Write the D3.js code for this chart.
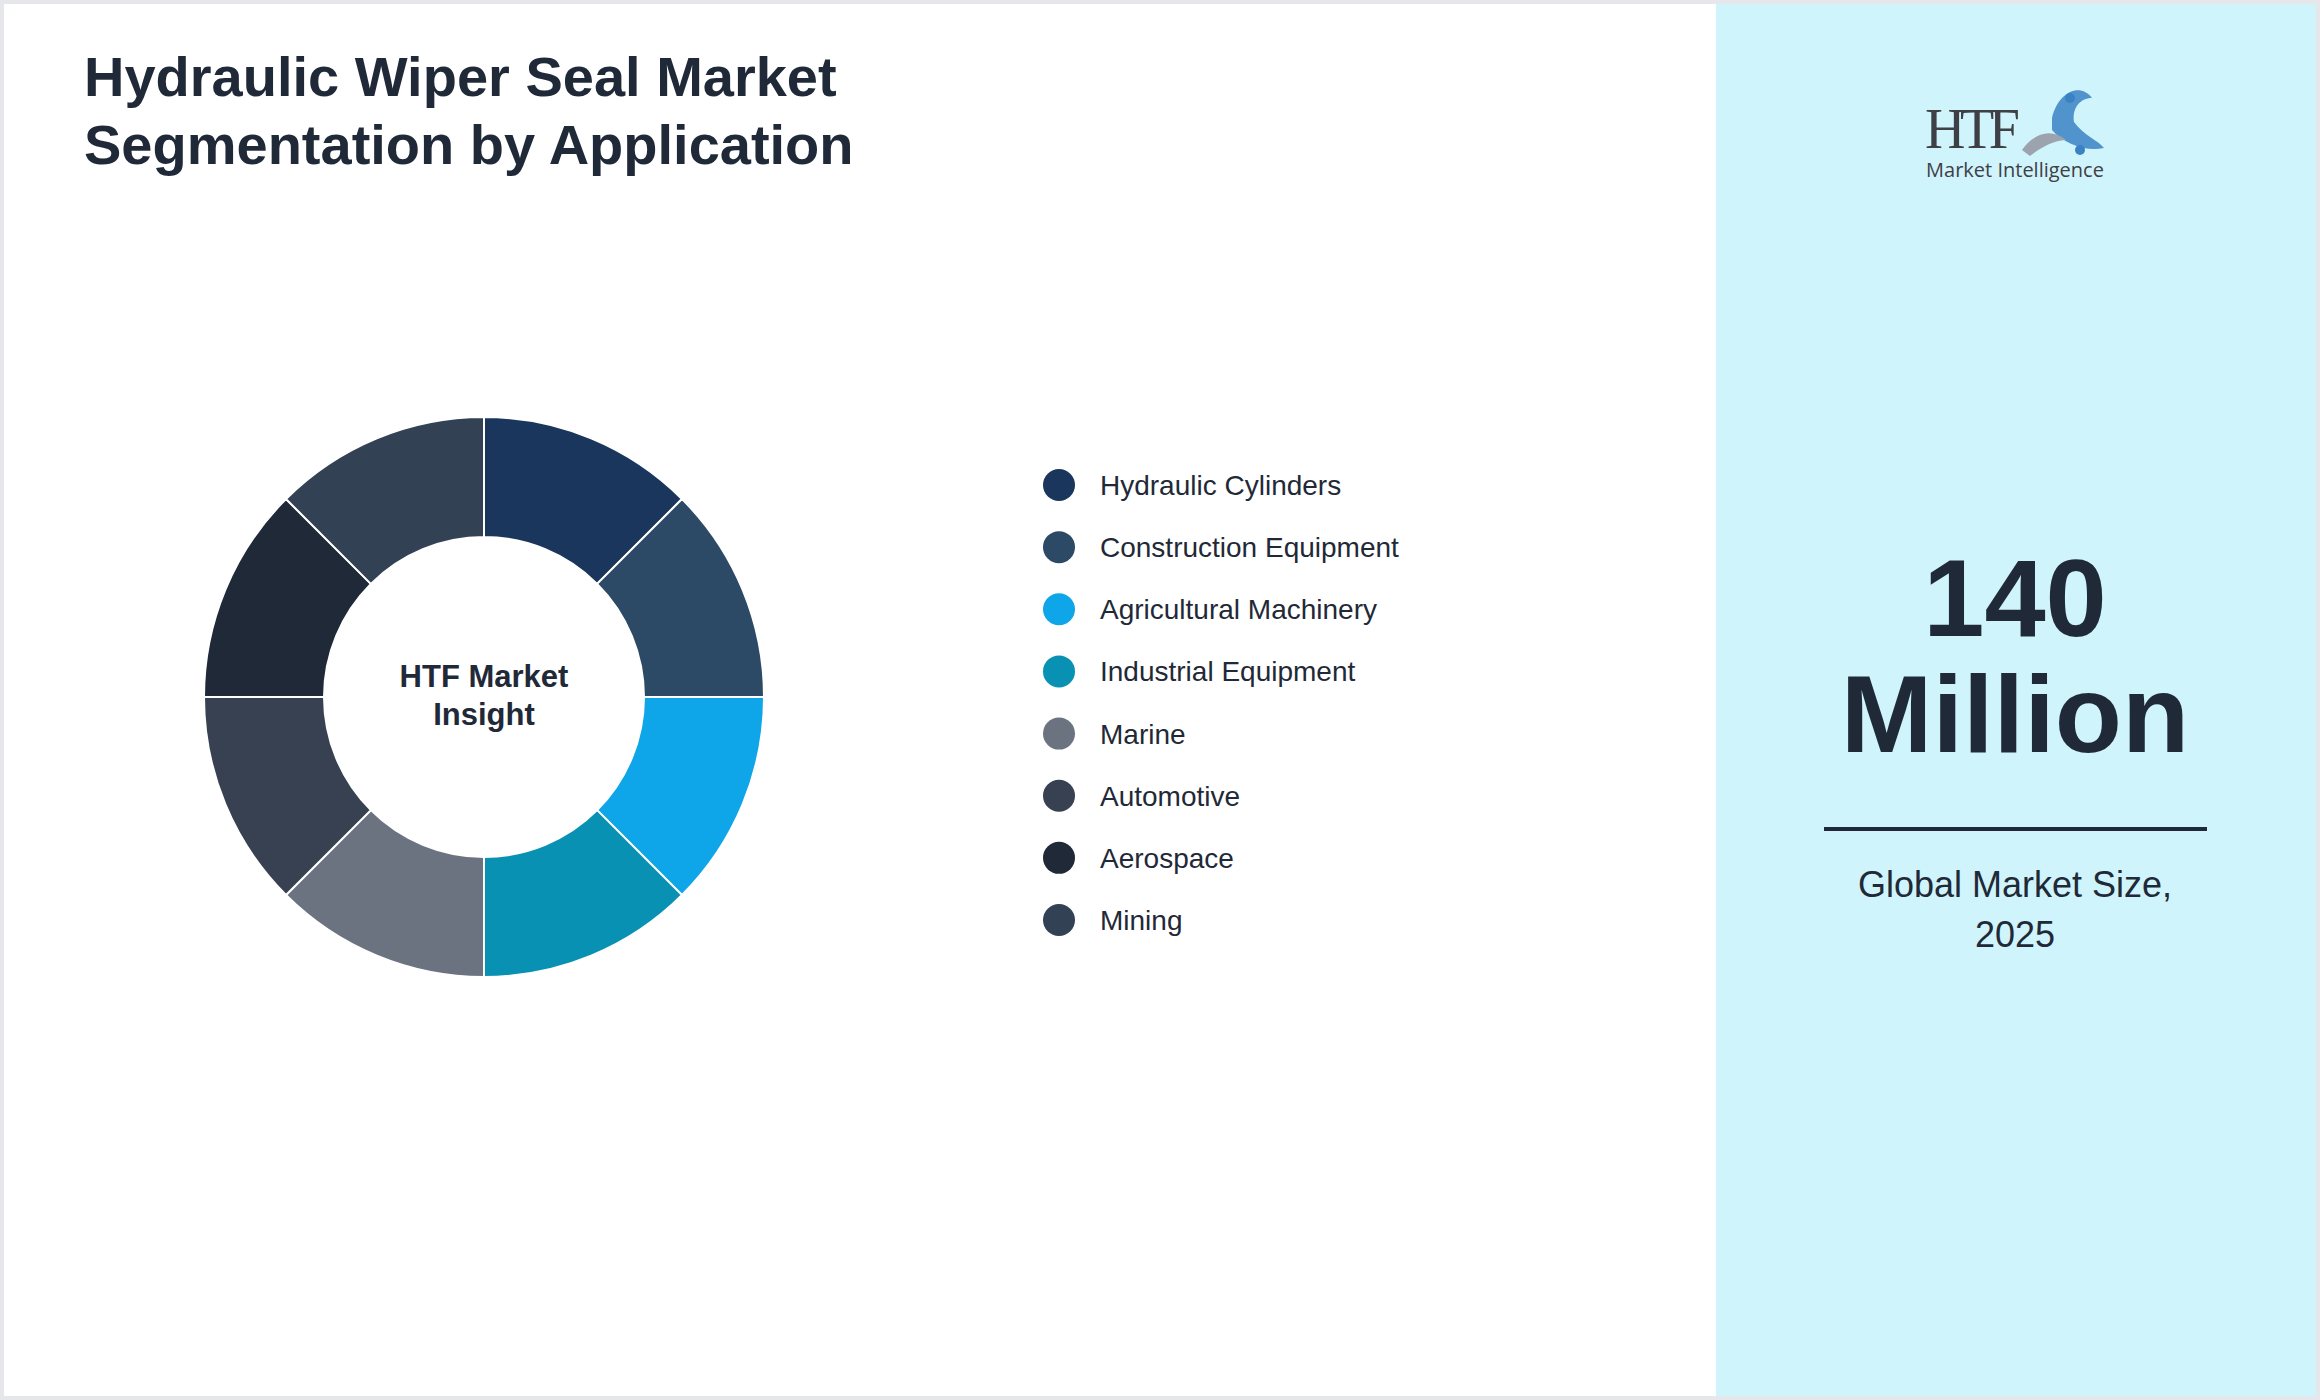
<!DOCTYPE html>
<html><head><meta charset="utf-8">
<script src="https://cdn.jsdelivr.net/npm/d3@7"></script>
<style>body{margin:0;background:#fff}svg{display:block}</style>
</head><body>
<script>
const categories = ["Hydraulic Cylinders","Construction Equipment","Agricultural Machinery","Industrial Equipment","Marine","Automotive","Aerospace","Mining"];
const values = [12.5,12.5,12.5,12.5,12.5,12.5,12.5,12.5];
const colors = ["#1b365d","#2c4a66","#0ea5e9","#0891b2","#6b7280","#374151","#1f2937","#334155"];
const titleLines = ["Hydraulic Wiper Seal Market","Segmentation by Application"];
const marketValue = ["140","Million"];
const marketLabel = ["Global Market Size,","2025"];

const W=2320,H=1400;
const svg=d3.select("body").append("svg").attr("width",W).attr("height",H);
svg.append("rect").attr("x",2).attr("y",2).attr("width",W-4).attr("height",H-4).attr("fill","#fff").attr("stroke","#e5e7eb").attr("stroke-width",4);
svg.append("rect").attr("x",1716).attr("y",4).attr("width",W-1720).attr("height",H-8).attr("fill","#cff4fc");

svg.selectAll(".t").data(titleLines).join("text").attr("x",84).attr("y",(d,i)=>96+i*68)
 .attr("font-family","Liberation Sans, Arial, sans-serif").attr("font-weight","bold").attr("font-size",56).attr("fill","#1f2937").text(d=>d);

const cx=484,cy=697;
const pie=d3.pie().sort(null).value(d=>d)(values);
const arc=d3.arc().innerRadius(160).outerRadius(280);
const g=svg.append("g").attr("transform",`translate(${cx},${cy})`);
g.selectAll("path").data(pie).join("path").attr("d",arc).attr("fill",(d,i)=>colors[i]).attr("stroke","#fff").attr("stroke-width",2);
g.selectAll(".c").data(["HTF Market","Insight"]).join("text").attr("text-anchor","middle").attr("y",(d,i)=>-10+i*38)
 .attr("font-family","Liberation Sans, Arial, sans-serif").attr("font-weight","bold").attr("font-size",31).attr("fill","#1f2937").text(d=>d);

const y=d3.scalePoint().domain(categories).range([485,920]);
const lg=svg.append("g");
lg.selectAll("circle").data(categories).join("circle").attr("cx",1059).attr("cy",d=>y(d)).attr("r",16).attr("fill",(d,i)=>colors[i]);
lg.selectAll("text").data(categories).join("text").attr("x",1100).attr("y",d=>y(d)+10)
 .attr("font-family","Liberation Sans, Arial, sans-serif").attr("font-size",28).attr("fill","#1f2937").text(d=>d);

const rc=2015;
svg.selectAll(".mv").data(marketValue).join("text").attr("x",rc).attr("y",(d,i)=>636+i*116).attr("text-anchor","middle")
 .attr("font-family","Liberation Sans, Arial, sans-serif").attr("font-weight","bold").attr("font-size",110).attr("fill","#1f2937").text(d=>d);
svg.append("line").attr("x1",1824).attr("x2",2207).attr("y1",829).attr("y2",829).attr("stroke","#1f2937").attr("stroke-width",4);
svg.selectAll(".ml").data(marketLabel).join("text").attr("x",rc).attr("y",(d,i)=>897+i*50).attr("text-anchor","middle")
 .attr("font-family","Liberation Sans, Arial, sans-serif").attr("font-size",36).attr("fill","#1f2937").text(d=>d);

// logo
const lo=svg.append("g");
lo.append("text").attr("x",1925).attr("y",148).attr("font-family","Liberation Serif, serif").attr("font-size",56).attr("textLength",95).attr("fill","#3f3f46").text("HTF");
lo.append("path").attr("d","M2052,118 C2058,92 2080,82 2092,98 C2080,98 2072,108 2074,122 C2084,136 2098,140 2104,148 C2086,152 2064,144 2052,130 Z").attr("fill","#3b82c4").attr("opacity",0.85);
lo.append("path").attr("d","M2022,150 C2035,132 2052,128 2066,140 C2052,141 2040,148 2030,156 Z").attr("fill","#9ca3af");
lo.append("circle").attr("cx",2070).attr("cy",98).attr("r",5).attr("fill","#3b82c4");
lo.append("circle").attr("cx",2080).attr("cy",150).attr("r",5).attr("fill","#3b82c4");
lo.append("text").attr("x",2015).attr("y",177).attr("text-anchor","middle").attr("font-family","Open Sans, sans-serif").attr("font-size",20).attr("fill","#3f3f46").text("Market Intelligence");
</script>
</body></html>
